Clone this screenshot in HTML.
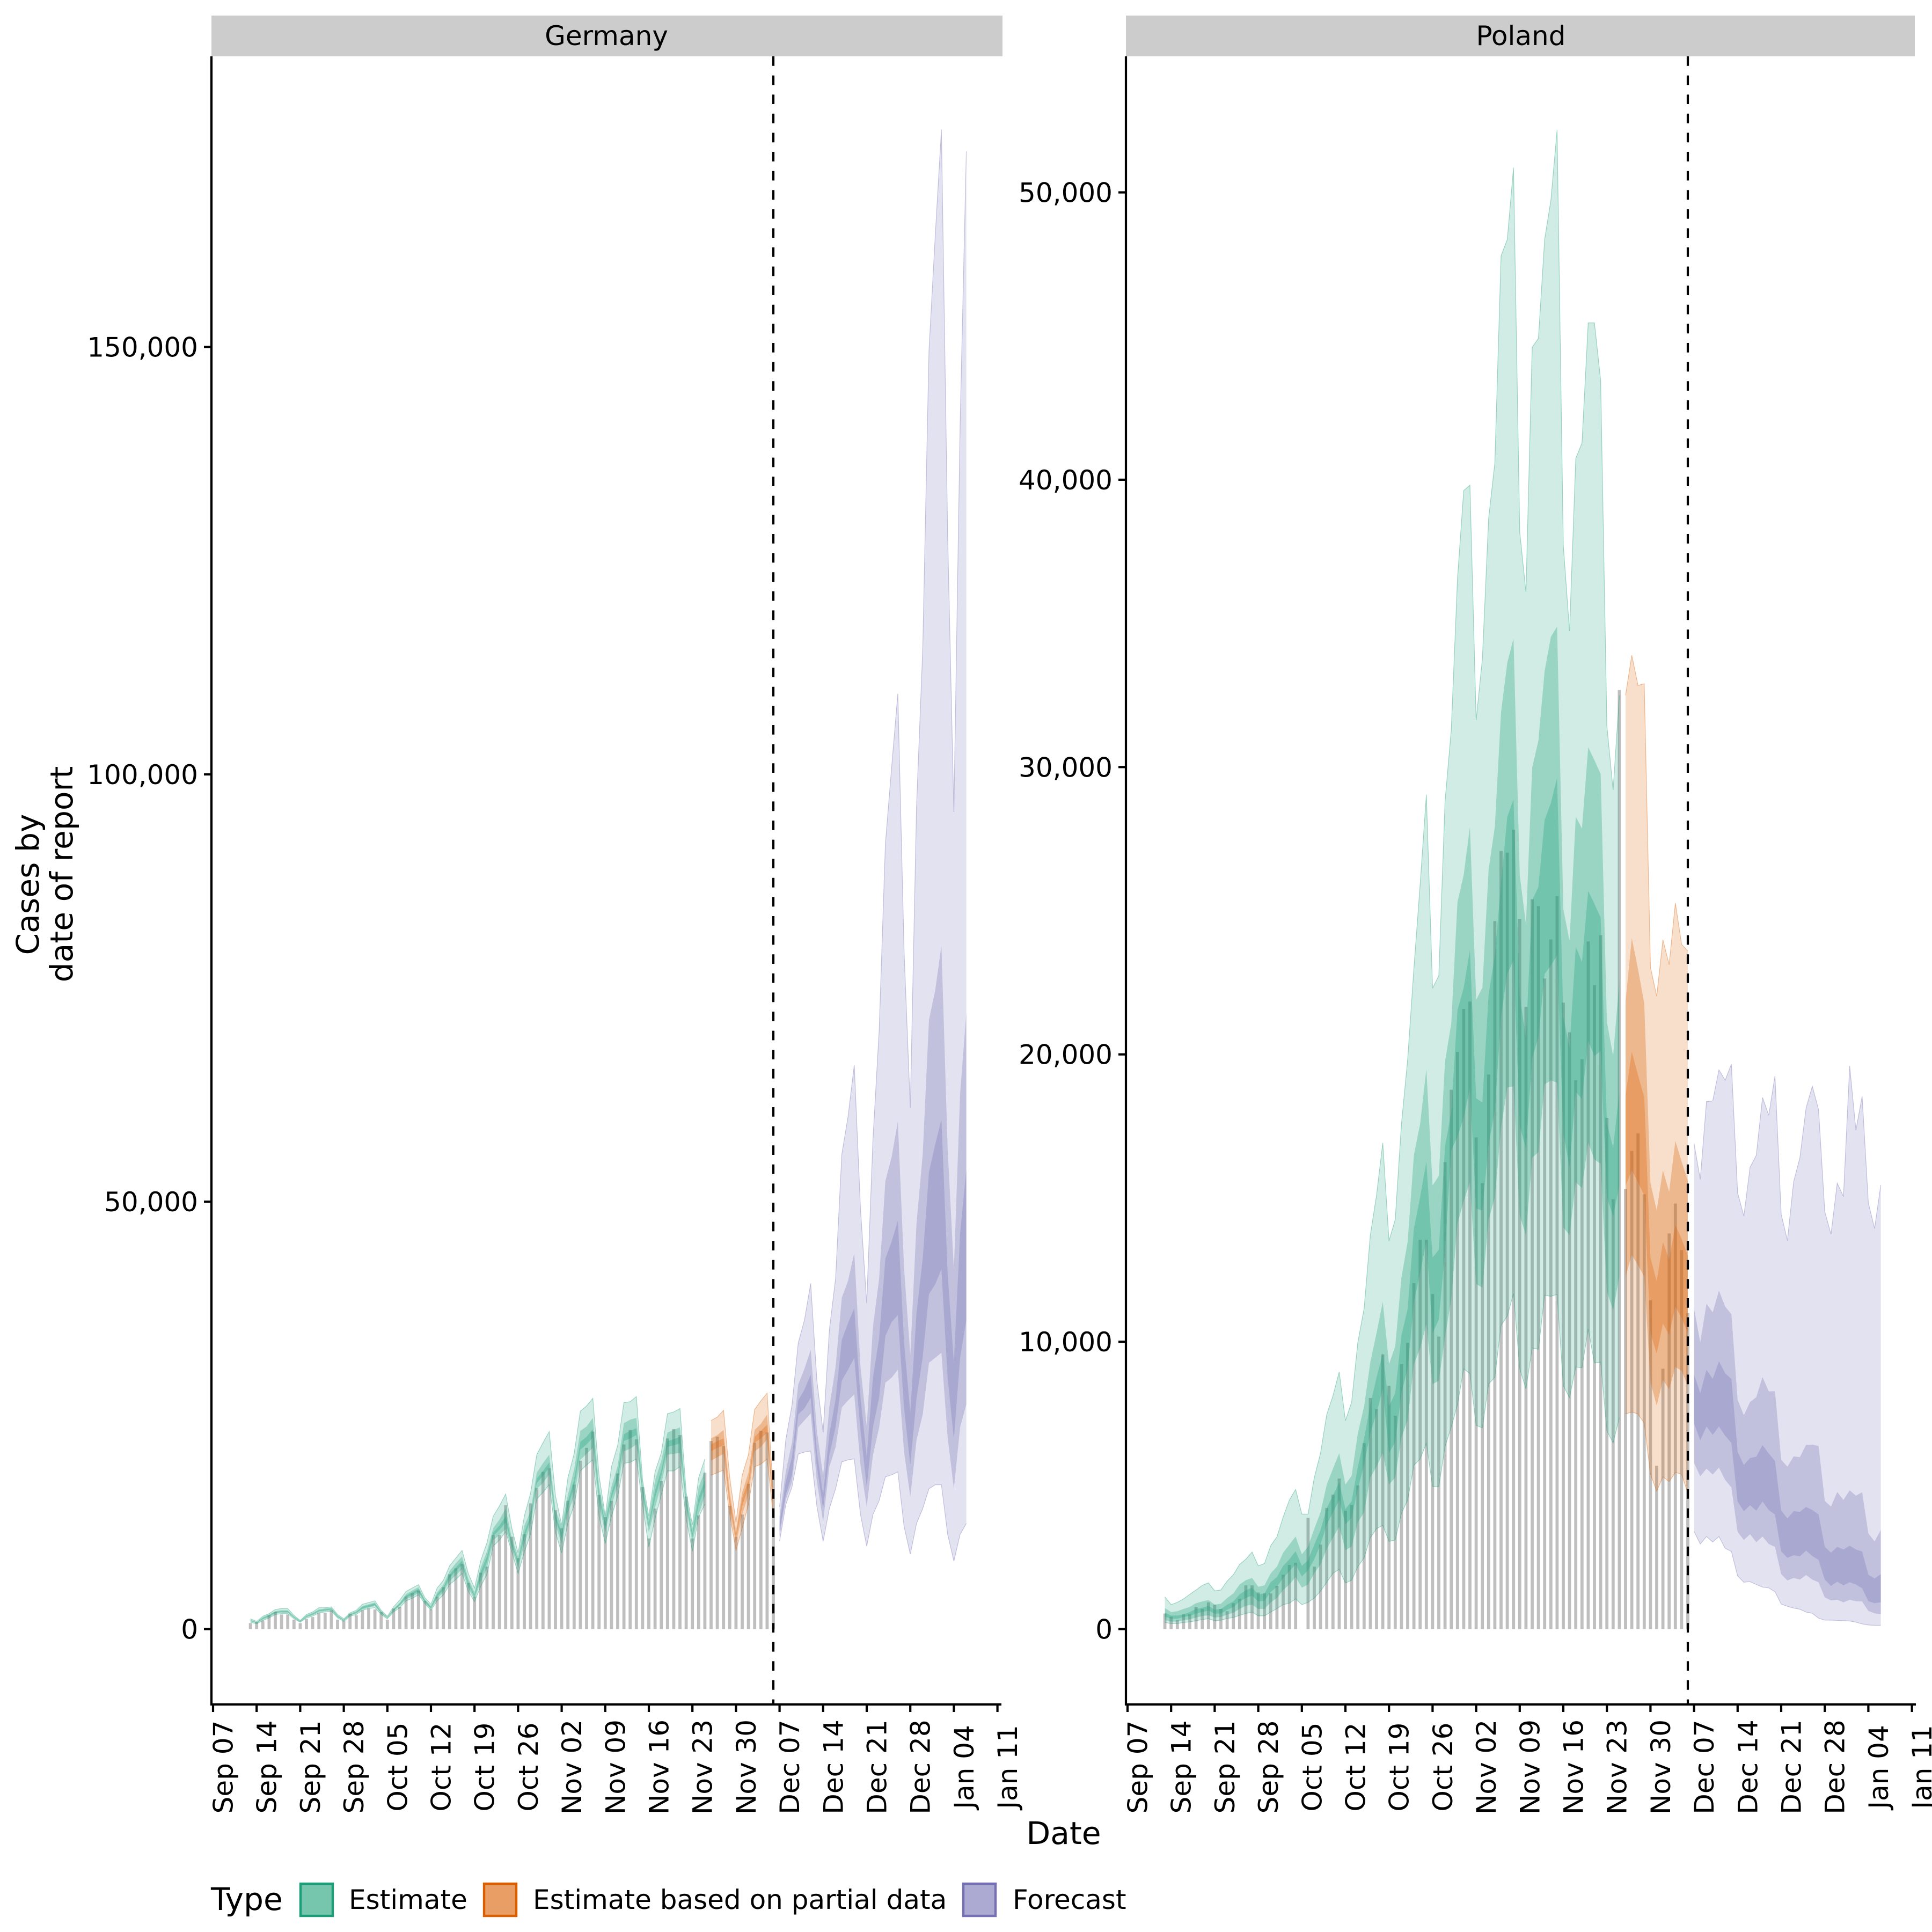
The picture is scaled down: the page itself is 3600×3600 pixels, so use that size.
<!DOCTYPE html>
<html lang="en">
<head>
<meta charset="utf-8">
<title>Cases by date of report: Germany and Poland</title>
<style>
html,body{margin:0;padding:0;background:#fff}
svg{display:block}
text{font-family:"DejaVu Sans","Liberation Sans",sans-serif;fill:#000}
</style>
</head>
<body>
<svg id="chart" xmlns="http://www.w3.org/2000/svg" width="3600" height="3600" viewBox="0 0 3600 3600">
  <rect x="0" y="0" width="3600" height="3600" fill="#ffffff"/>
  <g id="panel-germany"></g>
  <g id="panel-poland"></g>
  <rect x="394" y="29" width="1474" height="76" fill="#cccccc"/>
  <text x="1130" y="84" font-size="50" text-anchor="middle">Germany</text>
  <rect x="2098" y="29" width="1470" height="76" fill="#cccccc"/>
  <text x="2834" y="84" font-size="50" text-anchor="middle">Poland</text>
  <text x="1982" y="3436" font-size="58.3" text-anchor="middle">Date</text>
  <text transform="translate(72,1648) rotate(-90)" font-size="58.3" text-anchor="middle">Cases by</text>
  <text transform="translate(135,1629) rotate(-90)" font-size="58.3" text-anchor="middle">date of report</text>
  <g>
    <text x="393" y="3559" font-size="58.3">Type</text>
    <rect x="560" y="3510" width="60" height="60" fill="#76c5ad" stroke="#1b9e77" stroke-width="4.4"/>
    <text x="650" y="3557" font-size="50">Estimate</text>
    <rect x="902" y="3510" width="60" height="60" fill="#e89e65" stroke="#d95f02" stroke-width="4.4"/>
    <text x="993" y="3557" font-size="50">Estimate based on partial data</text>
    <rect x="1795" y="3510" width="60" height="60" fill="#aca9d2" stroke="#7570b3" stroke-width="4.4"/>
    <text x="1887" y="3557" font-size="50">Forecast</text>
  </g>
</svg>
<script>
// ---- shared categories (days counted from Sep 07) ----
const xTickLabels = ["Sep 07","Sep 14","Sep 21","Sep 28","Oct 05","Oct 12","Oct 19","Oct 26","Nov 02","Nov 09","Nov 16","Nov 23","Nov 30","Dec 07","Dec 14","Dec 21","Dec 28","Jan 04","Jan 11"];
const firstDataDay = 6;
const estimateDayCount = 74;
const partialDayCount = 11;
const forecastDayCount = 31;
const forecastDateDay = 90;

// ---- Germany ----
const germanyYTicks = [0,50000,100000,150000];
const germanyReported = [700,800,1000,1600,2000,1700,1700,1100,700,1200,1400,1900,1900,2200,1100,1000,1800,1600,2200,2400,2300,2000,1100,2400,2600,3800,4200,4500,3300,2300,3800,4900,6400,7100,7600,5400,3800,6600,7300,11000,11000,14500,10800,8300,11100,14700,16500,18400,18800,13900,11800,15000,16900,19700,21200,23100,15700,13100,15000,18200,21600,23300,22200,16600,10600,14100,17300,22300,23400,22700,15500,10600,13300,18300,22000,22500,21400,14400,10800,13400,17000,21800,23200,23000,17500];
const germanyQ5 = [800,600,1000,1300,1700,1800,1800,1200,800,1300,1500,1900,2000,2100,1300,900,1500,1700,2200,2400,2500,1700,1200,2000,2500,3300,3600,4000,3000,2200,3300,4000,5200,5800,6500,4400,3200,5000,6400,9700,10400,11400,9000,6500,9000,11100,15200,16000,16900,11300,8900,12400,14500,18500,19200,19800,13200,10000,13200,15500,19400,19500,19900,14500,9600,12900,15700,18500,18500,19000,12900,9100,13100,14600,
  18000,18300,18600,13400,9200,11800,14600,19000,19300,19900,13200,
  10260,14560,16640,20480,20710,20830,14330,10260,14100,16420,19560,19800,19910,13400,9680,13400,15030,17810,18040,18390,12000,8750,12350,14100,16420,16880,16880,11080,7950,11080,12350];
const germanyQ25 = [900,700,1100,1400,1800,1900,1900,1300,800,1400,1600,2000,2100,2200,1400,1000,1600,1800,2300,2500,2700,1800,1300,2100,2700,3500,3800,4200,3100,2300,3600,4300,5600,6300,7000,4800,3500,5600,7100,10400,11000,11700,9400,7200,9900,12200,16400,17100,18100,12200,10000,13600,15500,19800,20500,21200,14500,11300,14500,16700,20800,21100,21600,15500,11300,14200,16900,20400,20500,20600,14200,10100,13400,15600,
  19700,20100,20500,13900,10000,13400,15700,20800,21300,22200,13800,
  10840,15140,17230,23610,24420,25230,17230,12580,18970,21290,25940,26750,27450,19200,14320,20360,23610,28830,29410,30340,20730,15490,22100,25120,31160,31740,32320,22450,16420,23610,26290];
const germanyQ40 = [1000,700,1200,1500,1900,2000,2000,1300,900,1400,1700,2100,2200,2300,1400,1000,1600,1900,2400,2600,2800,1900,1300,2200,2800,3700,4000,4400,3200,2400,3800,4600,6000,6800,7500,5200,3800,6100,7800,10900,11600,12500,9800,7700,10700,12800,17100,17900,18900,12800,10700,14300,16600,21000,21600,22400,15300,11900,15300,17500,22000,22300,22700,16000,11900,15300,17900,21300,21500,21700,14700,10700,14500,16600,
  20800,21200,21500,14600,10600,14400,16600,21800,22300,23000,14200,
  11430,15720,18040,25120,25810,27080,18970,14100,20390,23620,29070,30340,31740,23270,16640,23620,27100,34290,35920,36730,25850,19200,27000,31860,39180,40340,42080,29420,22220,31740,36150];
const germanyQ60 = [1000,800,1300,1600,2000,2100,2100,1400,900,1500,1800,2200,2300,2400,1500,1100,1700,2000,2600,2800,3000,2000,1400,2300,3000,3900,4300,4700,3400,2600,4100,4900,6400,7200,8000,5500,4000,6700,8500,11300,12100,13200,10100,8000,11300,13200,17600,18500,19500,13300,11300,14900,17500,21900,22500,23400,15900,12400,15900,18200,22800,23200,23500,16400,12300,16200,18600,22000,22200,22500,15000,11200,15400,17400,
  21600,22000,22300,15300,11000,15300,17400,22500,23200,23900,14600,
  12350,17230,20130,26750,28020,29760,20690,15720,22800,26870,33830,35800,37540,27100,20130,29410,34060,43350,45330,47770,33440,25350,36970,43350,53450,56700,59600,41590,31160,46260,53800];
const germanyQ75 = [1100,800,1400,1700,2100,2200,2200,1500,1000,1600,1900,2300,2400,2500,1600,1100,1800,2100,2700,2900,3100,2100,1400,2400,3100,4100,4500,4900,3500,2700,4300,5200,6800,7700,8500,5900,4300,7200,9100,11800,12800,14100,10600,8500,12100,13800,18300,19400,20400,13900,12100,15700,18700,23200,23700,24700,16700,13100,16700,19100,24100,24500,24700,16900,12900,17400,19700,23000,23300,23600,15500,11800,16600,18500,
  22300,22700,23300,16000,11500,16000,18300,23300,24000,25100,15200,
  13170,18400,21830,28610,30460,32670,23140,17920,25990,30640,38770,40740,43990,30640,23730,35340,41030,52430,55220,59380,42200,32030,47440,55570,71250,74730,79960,56180,42040,62580,72090];
const germanyQ95 = [1200,900,1500,1800,2300,2400,2400,1600,1000,1700,2000,2500,2500,2600,1700,1200,1900,2200,2900,3100,3300,2200,1500,2600,3400,4400,4800,5200,3700,2900,4800,5700,7400,8300,9200,6500,4800,8000,10100,13200,14400,15800,11800,8900,13200,15900,20400,21800,23100,15600,12200,17700,20500,25500,26100,27000,18000,13200,19000,21500,26500,26600,27200,17400,13200,18400,20600,25200,25400,25800,16000,12200,17700,19900,
  24400,24800,25600,17700,12500,18000,20400,25700,26700,27600,15700,
  14320,22150,26200,33480,36150,40450,29060,23030,35000,41030,55550,59960,66000,49160,38130,57280,70050,91880,100830,109440,79350,61000,96180,114750,149590,162940,175450,128100,95600,140870,172900];

// ---- Poland ----
const polandYTicks = [0,10000,20000,30000,40000,50000];
const polandReported = [540,430,310,510,510,770,700,930,850,700,620,900,1050,1520,1520,1270,1240,1240,1500,1890,2230,2310,0,3870,2170,2940,4210,4680,5240,4120,4320,5000,6470,8040,7650,9560,8470,7420,9220,9960,12040,13550,13550,11660,10180,16250,18770,20090,21580,21840,17110,15520,19300,24640,27080,27020,27820,24720,21660,25400,25160,22640,24000,25510,21800,20770,19100,19830,23930,22410,24150,17790,14960,32680,15310,16640,17250,15130,11440,5680,9060,13770,14810,13190,11000];
const polandQ5 = [230,190,190,230,250,290,330,360,290,310,370,400,480,540,590,460,460,590,710,850,900,1050,850,930,1080,1320,1630,1940,2080,1600,1700,2170,2480,3180,3490,3610,3050,3100,4030,4490,5700,5920,6470,4960,4960,6350,7030,7810,9060,8890,7090,7000,8530,8760,10570,10890,11680,9060,8360,9780,9740,11620,11580,11650,8470,8050,9120,9090,10440,9260,9290,6900,6480,7350,
  7490,7550,7490,7160,5390,4800,5300,5130,5450,5390,4730,
  3400,2960,3220,3030,3220,2810,2700,1850,1630,1650,1550,1460,1430,1300,870,790,730,690,590,550,380,310,310,300,290,280,240,180,140,130,130];
const polandQ25 = [310,260,260,310,340,400,450,480,400,420,500,570,700,810,850,700,700,930,1080,1360,1550,1810,1440,1550,1940,2250,2790,3180,3560,2740,2870,3720,4060,5270,5650,6120,5030,5270,6660,7280,9220,9760,10610,8520,8640,10150,11480,14110,14890,15550,12010,11880,14240,15020,17450,18850,18890,14390,13710,16400,16600,18960,19090,19020,13980,13710,15550,15350,16930,16340,16200,11750,11090,12270,
  12270,13020,12660,12270,8600,7770,8670,8340,9120,8990,8470,
  5780,5320,5580,5380,5620,5190,4930,3380,3100,3300,3020,3220,2960,2860,1910,1690,1780,1720,1880,1720,1630,1100,1000,1020,930,1020,970,960,630,550,520];
const polandQ40 = [430,360,360,420,460,540,590,640,540,540,670,760,960,1080,1160,960,980,1290,1470,1780,2010,2250,1830,2040,2430,2940,3640,4060,4490,3640,3870,4880,5730,6820,7510,8360,6120,6510,8210,9060,11380,12390,13480,10300,10770,13170,16660,17140,17800,18810,14630,14570,16860,18040,21310,22800,23270,17510,16730,19880,20590,22800,23090,23450,17250,16070,18690,18450,20470,19940,20120,15020,14370,15420,
  15420,15970,15550,15090,10300,9580,10630,10240,11220,10830,10300,
  7160,6570,7050,6760,7050,6730,6480,4440,4100,4310,4120,4440,4140,3990,2700,2480,2570,2530,2730,2540,2410,1720,1500,1650,1520,1630,1550,1420,970,900,930];
const polandQ60 = [570,470,470,510,590,700,740,810,670,700,850,960,1210,1350,1440,1210,1240,1630,1810,2200,2430,2710,2200,2400,2940,3440,4210,4650,5110,4180,4450,5650,6630,7820,8750,9600,7750,8210,10220,11150,13940,15030,16260,12930,13200,16810,17970,21540,22320,23630,18470,18330,22080,23450,25950,28270,28870,22020,20590,25360,25830,28160,28750,29620,21310,20230,23750,23210,25690,25240,24760,17610,16760,18700,
  18570,20090,19280,18510,12930,12100,13470,12860,14060,13580,12990,
  8860,8210,9020,8710,9320,8900,8710,6170,5710,5950,6000,6400,6110,5850,4120,3850,4100,4080,4250,4140,3990,2860,2660,2860,2770,2900,2770,2700,1890,1760,1910];
const polandQ75 = [730,590,620,700,770,900,960,1010,850,880,1080,1240,1550,1700,1780,1470,1520,1940,2170,2660,2940,3220,2600,2870,3490,4060,5030,5580,6120,5030,5340,6820,7750,9290,10300,11390,9220,9840,12240,13480,16500,17580,19490,15440,15770,19750,21070,25300,26250,27920,21900,22320,26430,27920,31910,33630,34470,26250,24520,29980,30920,33340,34530,34890,25060,23950,28270,27860,30690,30240,29760,21130,19940,22560,
  21840,24050,22970,21780,15520,14570,15970,15220,16990,16270,15610,
  11160,9980,11320,11020,11780,11220,10960,7980,7440,7900,8070,8770,8270,8280,5890,5650,6010,5980,6410,6420,6370,4460,4260,4770,4490,4830,4640,4760,3330,3050,3450];
const polandQ95 = [1115,850,930,1050,1210,1360,1520,1610,1330,1360,1670,1890,2250,2430,2680,2200,2280,2900,3210,3900,4490,4860,4000,4000,5270,6120,7470,8120,8950,7250,7900,9990,11150,13710,15100,16920,13510,14250,17580,19830,23000,25900,29040,22300,22740,28800,31290,36550,39620,39810,31630,33770,38650,40580,47790,48360,50860,38180,36090,44610,44920,48360,49720,52170,37720,34730,40740,41280,45460,45460,43450,31440,29200,32500,
  32500,33890,32840,32900,23030,22020,23990,23120,25270,23830,23600,
  16900,15650,18360,18380,19460,19100,19660,15180,14370,16070,16490,18500,17880,19250,14430,13520,15570,16400,18140,18890,18080,14530,13740,15520,15050,19600,17360,18540,14830,13940,15460];

// ---- drawing ----
const SVG_NS = "http://www.w3.org/2000/svg";
const DAY_PX = 11.6;
const ZERO_Y = 3035.5;
const AXIS_Y = 3176;
const TOP_Y = 105;

function makeX(origin){ return function(day){ return origin + day * DAY_PX; }; }
function makeY(pxPerCase){ return function(v){ return ZERO_Y - v * pxPerCase; }; }

function make(parent, tag, attrs){
  const el = document.createElementNS(SVG_NS, tag);
  for (const k in attrs) el.setAttribute(k, attrs[k]);
  parent.appendChild(el);
  return el;
}

function bandPoints(low, high, from, to, x, y){
  const pts = [];
  for (let i = from; i < to; i++) pts.push(x(firstDataDay + i).toFixed(1) + "," + y(high[i]).toFixed(1));
  for (let i = to - 1; i >= from; i--) pts.push(x(firstDataDay + i).toFixed(1) + "," + y(low[i]).toFixed(1));
  return pts.join(" ");
}
function linePoints(arr, from, to, x, y){
  const pts = [];
  for (let i = from; i < to; i++) pts.push(x(firstDataDay + i).toFixed(1) + "," + y(arr[i]).toFixed(1));
  return pts.join(" ");
}

function drawPanel(g, cfg){
  const x = makeX(cfg.origin);
  const y = makeY(cfg.pxPerCase);
  const fmt = function(v){ return v.toLocaleString("en-US"); };

  // reported-case bars
  cfg.reported.forEach(function(v, i){
    if (v <= 0) return;
    const bw = DAY_PX * 0.5;
    const bar = make(g, "rect", {x: (x(firstDataDay + i) - bw / 2).toFixed(2), y: y(v).toFixed(1), width: bw, height: (ZERO_Y - y(v)).toFixed(1), fill: "#7f7f7f", "fill-opacity": 0.5});
    
    
  });

  // credible-interval ribbons by type
  const segments = [
    {label: "estimate", from: 0, to: estimateDayCount, color: "#1b9e77"},
    {label: "partial", from: estimateDayCount, to: estimateDayCount + partialDayCount, color: "#d95f02"},
    {label: "forecast", from: estimateDayCount + partialDayCount, to: estimateDayCount + partialDayCount + forecastDayCount, color: "#7570b3"}
  ];
  segments.forEach(function(s){
    const outer = make(g, "polygon", {points: bandPoints(cfg.q5, cfg.q95, s.from, s.to, x, y), fill: s.color, "fill-opacity": 0.2});
    
    
    const mid = make(g, "polygon", {points: bandPoints(cfg.q25, cfg.q75, s.from, s.to, x, y), fill: s.color, "fill-opacity": 0.3});
    
    
    const inner = make(g, "polygon", {points: bandPoints(cfg.q40, cfg.q60, s.from, s.to, x, y), fill: s.color, "fill-opacity": 0.3});
    
    
    const upper = make(g, "polyline", {points: linePoints(cfg.q95, s.from, s.to, x, y), fill: "none", stroke: s.color, "stroke-opacity": 0.4, "stroke-width": 1.2});
    
    
    const lower = make(g, "polyline", {points: linePoints(cfg.q5, s.from, s.to, x, y), fill: "none", stroke: s.color, "stroke-opacity": 0.4, "stroke-width": 1.2});
    
    
  });

  // forecast date marker
  const vline = make(g, "line", {x1: x(forecastDateDay), x2: x(forecastDateDay), y1: TOP_Y, y2: AXIS_Y, stroke: "#000", "stroke-width": 4.2, "stroke-dasharray": "17.8 17.8"});
  
  

  // axes
  const yAxis = make(g, "line", {x1: cfg.left, x2: cfg.left, y1: TOP_Y, y2: AXIS_Y + 2, stroke: "#000", "stroke-width": 4.2});
  
  
  const xAxis = make(g, "line", {x1: cfg.left - 2, x2: cfg.right, y1: AXIS_Y, y2: AXIS_Y, stroke: "#000", "stroke-width": 4.2});
  
  

  cfg.yTicks.forEach(function(v){
    const tick = make(g, "line", {x1: cfg.left - 14, x2: cfg.left, y1: y(v), y2: y(v), stroke: "#000", "stroke-width": 4.2});
    
    
    const label = make(g, "text", {x: cfg.left - 25, y: y(v) + 18, "font-size": 50, "text-anchor": "end"});
    label.textContent = fmt(v);
    
    
  });

  xTickLabels.forEach(function(lbl, i){
    const px = x(i * 7);
    const tick = make(g, "line", {x1: px, x2: px, y1: AXIS_Y, y2: AXIS_Y + 14, stroke: "#000", "stroke-width": 4.2});
    
    
    const label = make(g, "text", {transform: "translate(" + (px + 36.5).toFixed(1) + ",3292.5) rotate(-90)", "font-size": 50, "text-anchor": "middle"});
    label.textContent = lbl;
    
    
  });
}

drawPanel(document.getElementById("panel-germany"), {
  origin: 397, left: 394, right: 1866, pxPerCase: 796.3 / 50000,
  yTicks: germanyYTicks, reported: germanyReported,
  q5: germanyQ5, q25: germanyQ25, q40: germanyQ40, q60: germanyQ60, q75: germanyQ75, q95: germanyQ95
});
drawPanel(document.getElementById("panel-poland"), {
  origin: 2101, left: 2098, right: 3570, pxPerCase: 535.4 / 10000,
  yTicks: polandYTicks, reported: polandReported,
  q5: polandQ5, q25: polandQ25, q40: polandQ40, q60: polandQ60, q75: polandQ75, q95: polandQ95
});
</script>
</body>
</html>
